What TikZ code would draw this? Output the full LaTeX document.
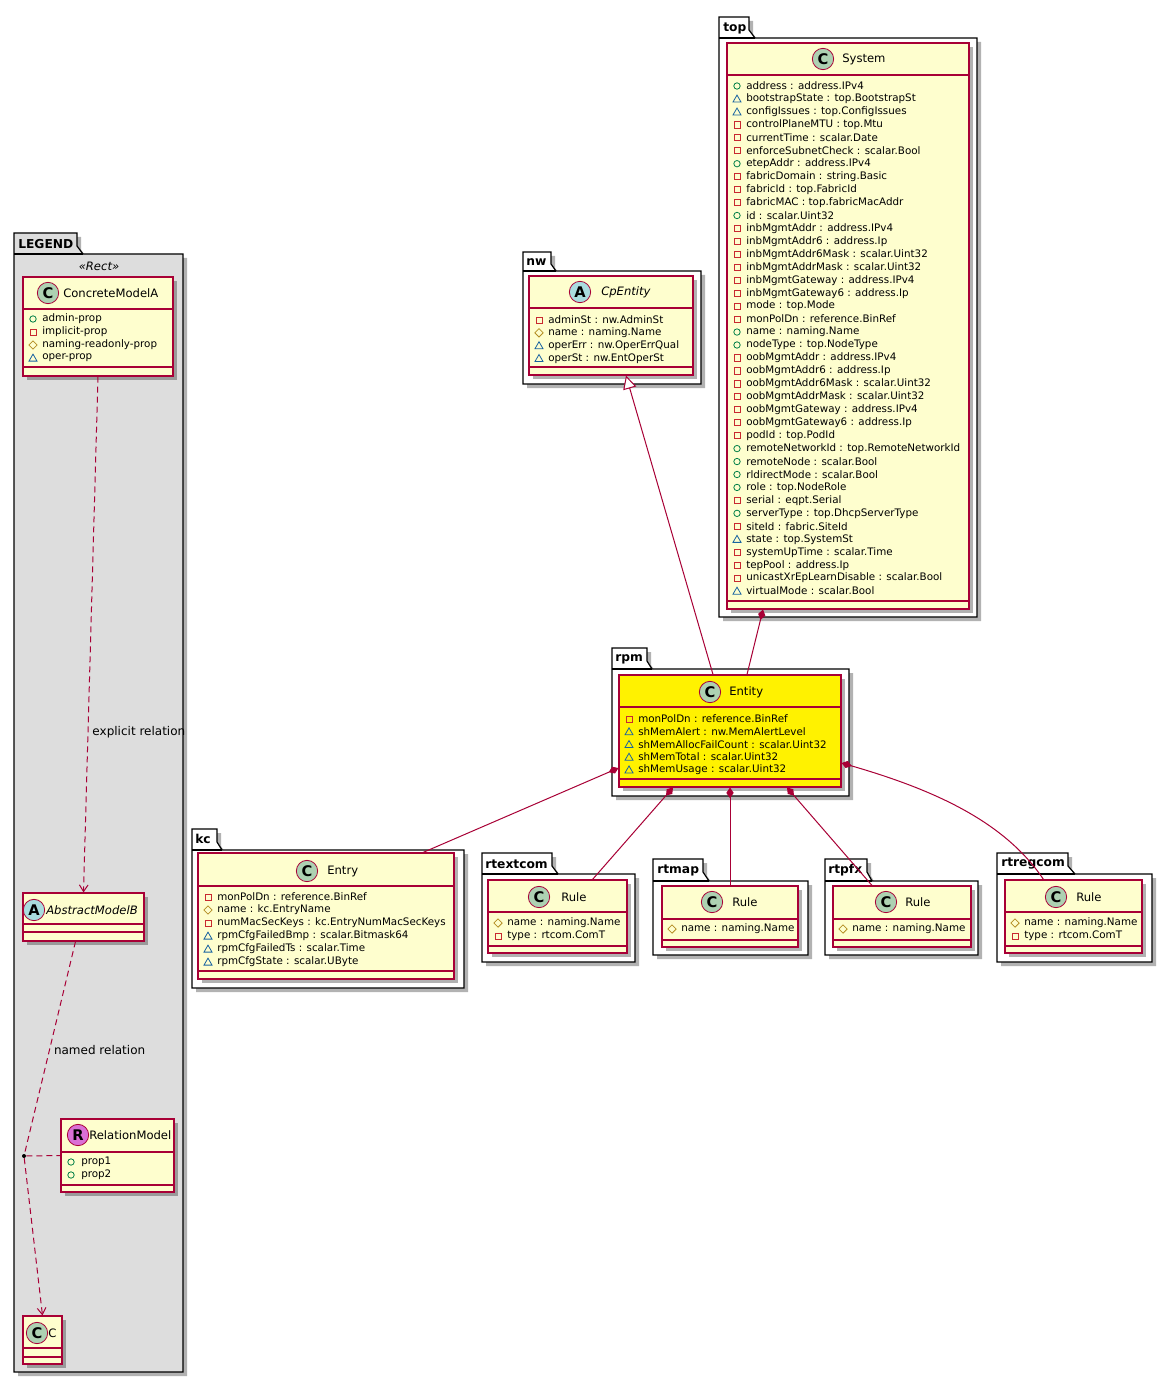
\documentclass[tikz,border=0pt]{standalone}
\usepackage{fontspec}
\setmainfont{DejaVu Sans}
\usetikzlibrary{arrows.meta,shapes.geometric,shadows,fit,calc}
\definecolor{umlred}{HTML}{A80036}
\definecolor{umlfill}{HTML}{FEFECE}
\definecolor{legendgray}{HTML}{DDDDDD}
\definecolor{spotgreen}{HTML}{ADD1B2}
\definecolor{spotblue}{HTML}{A9DCDF}
\definecolor{spotpink}{HTML}{DA70D6}
\definecolor{vispub}{HTML}{038048}
\definecolor{vispriv}{HTML}{C82930}
\definecolor{visprot}{HTML}{B38D22}
\definecolor{vispkg}{HTML}{1963A0}

\begin{document}
\begin{tikzpicture}[x=0.75pt,y=-0.75pt]
\tikzset{
  boxshadow/.style={drop shadow={shadow xshift=3pt, shadow yshift=-3pt, opacity=0.3, fill=black}},
  pkg/.style={draw=black, fill=white, line width=0.9pt, boxshadow},
  pkgline/.style={draw=black, line width=0.9pt},
  pkgname/.style={anchor=west, inner sep=0, font=\bfseries\fontsize{9.2}{10}\selectfont},
  umlbox/.style={draw=umlred, fill=umlfill, line width=0.8pt, inner sep=0, boxshadow},
  umlsep/.style={draw=umlred, line width=0.8pt},
  spot/.style={circle, draw=umlred, line width=0.6pt, minimum size=16pt, inner sep=0, font=\bfseries\fontsize{11}{10}\selectfont},
  cname/.style={anchor=west, inner sep=0, font=\fontsize{8.7}{10}\selectfont},
  aname/.style={anchor=west, inner sep=0, font=\itshape\fontsize{8.7}{10}\selectfont},
  attr/.style={anchor=west, inner sep=0, font=\fontsize{7.75}{9}\selectfont},
  vpub/.style={circle, draw=vispub, line width=0.6pt, minimum size=4.8pt, inner sep=0},
  vpriv/.style={rectangle, draw=vispriv, line width=0.6pt, minimum size=4.6pt, inner sep=0},
  vprot/.style={diamond, draw=visprot, line width=0.6pt, minimum size=6.5pt, inner sep=0},
  vpkg/.style={regular polygon, regular polygon sides=3, draw=vispkg, line width=0.6pt, minimum size=7pt, inner sep=0, yshift=-0.6pt},
  rel/.style={draw=umlred, line width=0.75pt},
  dashrel/.style={rel, dash pattern=on 4.5pt off 3pt},
  lbl/.style={anchor=west, inner sep=3pt, font=\fontsize{9}{10}\selectfont},
  reldot/.style={circle, fill=black, minimum size=3pt, inner sep=0}
}
\fill[white] (0,0) rectangle (1172,1383);
\useasboundingbox (0,0) rectangle (1172,1383);

% packages
\draw[pkg, fill=legendgray] (14,254) -- (14,233) -- (77,233) -- (77,246) -- (83,254) -- (183,254) -- (183,1372) -- (14,1372) -- cycle;
\draw[pkgline] (14,254) -- (83,254);
\node[pkgname] (legend-name) at (18,244) {LEGEND};
\node[font=\itshape\fontsize{8.7}{10}\selectfont, inner sep=0] (legend-stereo) at (99,266) {«Rect»};

\draw[pkg] (719,38) -- (719,17) -- (749,17) -- (749,30) -- (755,38) -- (977,38) -- (977,617) -- (719,617) -- cycle;
\draw[pkgline] (719,38) -- (755,38);
\node[pkgname] (top-name) at (723,28) {top};

\draw[pkg] (523,271) -- (523,252) -- (551,252) -- (551,264) -- (556,271) -- (701,271) -- (701,384) -- (523,384) -- cycle;
\draw[pkgline] (523,271) -- (556,271);
\node[pkgname] (nw-name) at (526,262) {nw};

\draw[pkg] (612,669) -- (612,648) -- (647,648) -- (647,661) -- (652,669) -- (849,669) -- (849,796) -- (612,796) -- cycle;
\draw[pkgline] (612,669) -- (652,669);
\node[pkgname] (rpm-name) at (615,659) {rpm};

\draw[pkg] (192,850) -- (192,829) -- (217,829) -- (217,842) -- (222,850) -- (464,850) -- (464,988) -- (192,988) -- cycle;
\draw[pkgline] (192,850) -- (222,850);
\node[pkgname] (kc-name) at (195,839) {kc};

\draw[pkg] (482,874) -- (482,853) -- (552,853) -- (552,866) -- (558,874) -- (635,874) -- (635,962) -- (482,962) -- cycle;
\draw[pkgline] (482,874) -- (558,874);
\node[pkgname] (rtextcom-name) at (485,864) {rtextcom};

\draw[pkg] (653,881) -- (653,859) -- (703,859) -- (703,872) -- (709,881) -- (808,881) -- (808,955) -- (653,955) -- cycle;
\draw[pkgline] (653,881) -- (709,881);
\node[pkgname] (rtmap-name) at (657,870) {rtmap};

\draw[pkg] (825,881) -- (825,859) -- (867,859) -- (867,872) -- (872,881) -- (978,881) -- (978,955) -- (825,955) -- cycle;
\draw[pkgline] (825,881) -- (872,881);
\node[pkgname] (rtpfx-name) at (828,870) {rtpfx};

\draw[pkg] (997,874) -- (997,853) -- (1068,853) -- (1068,866) -- (1075,874) -- (1152,874) -- (1152,962) -- (997,962) -- cycle;
\draw[pkgline] (997,874) -- (1075,874);
\node[pkgname] (rtregcom-name) at (1001,864) {rtregcom};

% legend classes
\node[umlbox, fit={(23,277) (173,376)}] (concA) {};
\draw[umlsep] (23,309) -- (173,309);
\draw[umlsep] (23,367) -- (173,367);
\node[spot, fill=spotgreen] (concA-spot) at (48,293) {C};
\node[cname] (concA-name) at (63,293) {ConcreteModelA};
\foreach \vis/\txt [count=\i] in {vpub/admin-prop, vpriv/implicit-prop, vprot/naming-readonly-prop, vpkg/oper-prop}
  {\node[\vis] (concA-v\i) at (33,{319+13*(\i-1)}) {};
   \node[attr] (concA-a\i) at (42,{319+13*(\i-1)}) {\txt};}

\node[umlbox, fit={(23,893) (144,941)}] (absB) {};
\draw[umlsep] (23,924) -- (144,924);
\draw[umlsep] (23,932) -- (144,932);
\node[spot, fill=spotblue] (absB-spot) at (34,910) {A};
\node[aname] (absB-name) at (46,910) {AbstractModelB};

\node[umlbox, fit={(61,1119) (174,1192)}] (relM) {};
\draw[umlsep] (61,1152) -- (174,1152);
\draw[umlsep] (61,1185) -- (174,1185);
\node[spot, fill=spotpink] (relM-spot) at (78,1135) {R};
\node[cname] (relM-name) at (89,1135) {RelationModel};
\foreach \vis/\txt [count=\i] in {vpub/prop1, vpub/prop2}
  {\node[\vis] (relM-v\i) at (71,{1162+13*(\i-1)}) {};
   \node[attr] (relM-a\i) at (81,{1162+13*(\i-1)}) {\txt};}

\node[umlbox, fit={(23,1316) (62,1364)}] (cC) {};
\draw[umlsep] (23,1348) -- (62,1348);
\draw[umlsep] (23,1357) -- (62,1357);
\node[spot, fill=spotgreen] (cC-spot) at (37,1333) {C};
\node[cname] (cC-name) at (48,1333) {C};

% top.System
\node[umlbox, fit={(727,43) (969,609)}] (sys) {};
\draw[umlsep] (727,75) -- (969,75);
\draw[umlsep] (727,601) -- (969,601);
\node[spot, fill=spotgreen] (sys-spot) at (823,59) {C};
\node[cname] (sys-name) at (842,59) {System};
\foreach \vis/\txt [count=\i] in {vpub/address : address.IPv4, vpkg/bootstrapState : top.BootstrapSt,
  vpkg/configIssues : top.ConfigIssues, vpriv/controlPlaneMTU : top.Mtu, vpriv/currentTime : scalar.Date,
  vpriv/enforceSubnetCheck : scalar.Bool, vpub/etepAddr : address.IPv4, vpriv/fabricDomain : string.Basic,
  vpriv/fabricId : top.FabricId, vpriv/fabricMAC : top.fabricMacAddr, vpub/id : scalar.Uint32,
  vpriv/inbMgmtAddr : address.IPv4, vpriv/inbMgmtAddr6 : address.Ip, vpriv/inbMgmtAddr6Mask : scalar.Uint32,
  vpriv/inbMgmtAddrMask : scalar.Uint32, vpriv/inbMgmtGateway : address.IPv4, vpriv/inbMgmtGateway6 : address.Ip,
  vpriv/mode : top.Mode, vpriv/monPolDn : reference.BinRef, vpub/name : naming.Name, vpub/nodeType : top.NodeType,
  vpriv/oobMgmtAddr : address.IPv4, vpriv/oobMgmtAddr6 : address.Ip, vpriv/oobMgmtAddr6Mask : scalar.Uint32,
  vpriv/oobMgmtAddrMask : scalar.Uint32, vpriv/oobMgmtGateway : address.IPv4, vpriv/oobMgmtGateway6 : address.Ip,
  vpriv/podId : top.PodId, vpub/remoteNetworkId : top.RemoteNetworkId, vpub/remoteNode : scalar.Bool,
  vpub/rldirectMode : scalar.Bool, vpub/role : top.NodeRole, vpriv/serial : eqpt.Serial,
  vpub/serverType : top.DhcpServerType, vpriv/siteId : fabric.SiteId, vpkg/state : top.SystemSt,
  vpriv/systemUpTime : scalar.Time, vpriv/tepPool : address.Ip, vpriv/unicastXrEpLearnDisable : scalar.Bool,
  vpkg/virtualMode : scalar.Bool}
  {\node[\vis] (sys-v\i) at (737,{86+12.95*(\i-1)}) {};
   \node[attr] (sys-a\i) at (746,{86+12.95*(\i-1)}) {\txt};}

% nw.CpEntity
\node[umlbox, fit={(529,276) (693,375)}] (cpent) {};
\draw[umlsep] (529,308) -- (693,308);
\draw[umlsep] (529,367) -- (693,367);
\node[spot, fill=spotblue] (cpent-spot) at (580,292) {A};
\node[aname] (cpent-name) at (601,292) {CpEntity};
\foreach \vis/\txt [count=\i] in {vpriv/adminSt : nw.AdminSt, vprot/name : naming.Name,
  vpkg/operErr : nw.OperErrQual, vpkg/operSt : nw.EntOperSt}
  {\node[\vis] (cpent-v\i) at (539,{320+12.8*(\i-1)}) {};
   \node[attr] (cpent-a\i) at (548,{320+12.8*(\i-1)}) {\txt};}

% rpm.Entity
\node[umlbox, fill=yellow, fit={(619,675) (841,787)}] (ent) {};
\draw[umlsep] (619,707) -- (841,707);
\draw[umlsep] (619,779) -- (841,779);
\node[spot, fill=spotgreen] (ent-spot) at (710,692) {C};
\node[cname] (ent-name) at (729,692) {Entity};
\foreach \vis/\txt [count=\i] in {vpriv/monPolDn : reference.BinRef, vpkg/shMemAlert : nw.MemAlertLevel,
  vpkg/shMemAllocFailCount : scalar.Uint32, vpkg/shMemTotal : scalar.Uint32, vpkg/shMemUsage : scalar.Uint32}
  {\node[\vis] (ent-v\i) at (629,{719+12.7*(\i-1)}) {};
   \node[attr] (ent-a\i) at (638,{719+12.7*(\i-1)}) {\txt};}

% kc.Entry
\node[umlbox, fit={(198,853) (454,979)}] (kcent) {};
\draw[umlsep] (198,886) -- (454,886);
\draw[umlsep] (198,971) -- (454,971);
\node[spot, fill=spotgreen] (kcent-spot) at (307,871) {C};
\node[cname] (kcent-name) at (327,871) {Entry};
\foreach \vis/\txt [count=\i] in {vpriv/monPolDn : reference.BinRef, vprot/name : kc.EntryName,
  vpriv/numMacSecKeys : kc.EntryNumMacSecKeys, vpkg/rpmCfgFailedBmp : scalar.Bitmask64,
  vpkg/rpmCfgFailedTs : scalar.Time, vpkg/rpmCfgState : scalar.UByte}
  {\node[\vis] (kcent-v\i) at (208,{897+13*(\i-1)}) {};
   \node[attr] (kcent-a\i) at (217,{897+13*(\i-1)}) {\txt};}

% rtextcom.Rule
\node[umlbox, fit={(488,880) (627,953)}] (extrule) {};
\draw[umlsep] (488,912) -- (627,912);
\draw[umlsep] (488,946) -- (627,946);
\node[spot, fill=spotgreen] (extrule-spot) at (539,897) {C};
\node[cname] (extrule-name) at (561,897) {Rule};
\foreach \vis/\txt [count=\i] in {vprot/name : naming.Name, vpriv/type : rtcom.ComT}
  {\node[\vis] (extrule-v\i) at (498,{923+13*(\i-1)}) {};
   \node[attr] (extrule-a\i) at (507,{923+13*(\i-1)}) {\txt};}

% rtmap.Rule
\node[umlbox, fit={(662,886) (798,947)}] (maprule) {};
\draw[umlsep] (662,919) -- (798,919);
\draw[umlsep] (662,940) -- (798,940);
\node[spot, fill=spotgreen] (maprule-spot) at (712,902) {C};
\node[cname] (maprule-name) at (732,902) {Rule};
\node[vprot] (maprule-v1) at (672,929) {};
\node[attr] (maprule-a1) at (681,929) {name : naming.Name};

% rtpfx.Rule
\node[umlbox, fit={(833,886) (971,947)}] (pfxrule) {};
\draw[umlsep] (833,919) -- (971,919);
\draw[umlsep] (833,940) -- (971,940);
\node[spot, fill=spotgreen] (pfxrule-spot) at (886,902) {C};
\node[cname] (pfxrule-name) at (905,902) {Rule};
\node[vprot] (pfxrule-v1) at (843,929) {};
\node[attr] (pfxrule-a1) at (852,929) {name : naming.Name};

% rtregcom.Rule
\node[umlbox, fit={(1005,880) (1142,953)}] (regrule) {};
\draw[umlsep] (1005,912) -- (1142,912);
\draw[umlsep] (1005,946) -- (1142,946);
\node[spot, fill=spotgreen] (regrule-spot) at (1056,897) {C};
\node[cname] (regrule-name) at (1076,897) {Rule};
\foreach \vis/\txt [count=\i] in {vprot/name : naming.Name, vpriv/type : rtcom.ComT}
  {\node[\vis] (regrule-v\i) at (1015,{923+13*(\i-1)}) {};
   \node[attr] (regrule-a\i) at (1024,{923+13*(\i-1)}) {\txt};}

% legend relations
\node[reldot] (rdot) at (24,1156) {};
\draw[dashrel, -{Straight Barb[length=5pt, width=6.5pt]}] (concA.south) -- node[lbl, pos=0.69] (lbl-explicit) {explicit relation} (absB.north);
\draw[dashrel] ($(absB.south)+(-8,0)$) -- node[lbl, pos=0.51] (lbl-named) {named relation} (rdot);
\draw[dashrel, -{Straight Barb[length=5pt, width=6.5pt]}] (rdot) -- (cC.north);
\draw[dashrel] (rdot) -- (relM.west);

% model relations
\draw[rel, -{Triangle[open, fill=white, length=10pt, width=10pt]}] ($(ent.north)+(-17,0)$) -- ($(cpent.south)+(15,0)$);
\draw[rel, {Diamond[length=8pt, width=5.5pt]}-] ($(sys.south)+(-85,0)$) -- ($(ent.north)+(17,0)$);
\draw[rel, {Diamond[length=8pt, width=5.5pt]}-] ($(ent.west)+(0,37)$) -- ($(kcent.north)+(97,0)$);
\draw[rel, {Diamond[length=8pt, width=5.5pt]}-] ($(ent.south)+(-57,0)$) -- ($(extrule.north)+(35,0)$);
\draw[rel, {Diamond[length=8pt, width=5.5pt]}-] (ent.south) -- (maprule.north);
\draw[rel, {Diamond[length=8pt, width=5.5pt]}-] ($(ent.south)+(57,0)$) -- ($(pfxrule.north)+(-30,0)$);
\draw[rel, {Diamond[length=8pt, width=5.5pt]}-] ($(ent.east)+(0,32)$) .. controls (935,790) and (1005,822) .. ($(regrule.north)+(-30,0)$);
\end{tikzpicture}
\end{document}
